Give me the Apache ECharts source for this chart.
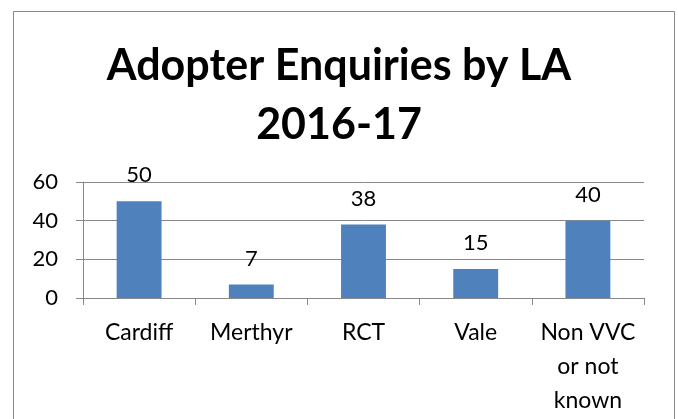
<!DOCTYPE html>
<html>
<head>
<meta charset="utf-8">
<style>
  html, body { margin: 0; padding: 0; background: #fff; }
  #chart { width: 678px; height: 419px; }
</style>
<script src="https://cdn.jsdelivr.net/npm/echarts@6/dist/echarts.min.js"></script>
</head>
<body>
<div id="chart"></div>
<script>
// 数据
var categories = ['Cardiff', 'Merthyr', 'RCT', 'Vale', 'Non VVC\nor not\nknown'];
var enquiries = [50, 7, 38, 15, 40];
var yTicks = [0, 20, 40, 60];

var myChart = echarts.init(document.getElementById('chart'));
var option = {
    animation: false,
    title: {
        text: 'Adopter Enquiries by LA\n2016-17',
        left: 'center',
        top: 32,
        textStyle: {
            fontFamily: 'Lato',
            fontWeight: 'bold',
            fontSize: 43,
            lineHeight: 59,
            color: '#000'
        }
    },
    graphic: [
        {
            type: 'rect',
            shape: { x: 13.5, y: 11.5, width: 661, height: 430 },
            style: { fill: 'none', stroke: '#888', lineWidth: 1 },
            silent: true
        }
    ],
    grid: {
        left: 83,
        right: 34,
        top: 182,
        bottom: 121
    },
    xAxis: {
        type: 'category',
        data: categories,
        axisLine: { lineStyle: { color: '#888' } },
        axisTick: { show: true, length: 7, lineStyle: { color: '#888' } },
        axisLabel: {
            interval: 0,
            color: '#000',
            fontSize: 23,
            fontFamily: 'Lato',
            lineHeight: 34,
            margin: 18
        }
    },
    yAxis: {
        type: 'value',
        min: yTicks[0],
        max: yTicks[yTicks.length - 1],
        interval: 20,
        axisLine: { show: true, lineStyle: { color: '#888' } },
        axisTick: { show: true, length: 7, lineStyle: { color: '#888' } },
        axisLabel: {
            color: '#000',
            fontSize: 22,
            fontFamily: 'Lato',
            margin: 25
        },
        splitLine: { lineStyle: { color: '#888', width: 1 } }
    },
    series: [
        {
            type: 'bar',
            data: enquiries,
            barWidth: '40%',
            itemStyle: { color: '#4F81BD' },
            label: {
                show: true,
                position: 'top',
                distance: 15,
                color: '#000',
                fontSize: 22,
                fontFamily: 'Lato'
            }
        }
    ]
};
myChart.setOption(option);
</script>
</body>
</html>
